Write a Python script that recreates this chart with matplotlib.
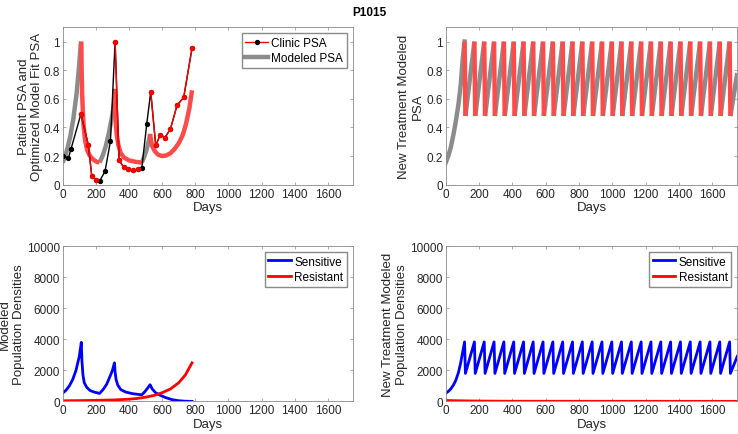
import matplotlib
matplotlib.use("Agg")
import numpy as np
import matplotlib.pyplot as plt
from matplotlib.lines import Line2D

plt.rcParams["font.family"] = ["Liberation Sans", "DejaVu Sans"]

# ---- patient clinic PSA (normalised) ----
clinic_days = [0, 34, 50, 110, 155, 175, 200, 222, 255, 288, 316, 340, 368,
               396, 424, 452, 477, 507, 531, 561, 589, 617, 650, 690, 730, 780]
clinic_psa = [0.20, 0.186, 0.25, 0.495, 0.275, 0.062, 0.035, 0.025, 0.093,
              0.305, 1.0, 0.17, 0.123, 0.107, 0.10, 0.107, 0.116, 0.425, 0.65,
              0.275, 0.35, 0.33, 0.39, 0.556, 0.61, 0.954]
# index ranges of clinic points taken on treatment
clinic_on = [(3, 6), (10, 15), (18, 25)]

# ---- fitted model PSA, off (grey) and on (red) treatment pieces ----
fit_off = [
    ([0, 15, 30, 46, 64, 84, 100, 110],
     [0.155, 0.20, 0.26, 0.34, 0.46, 0.64, 0.85, 1.0]),
    ([222, 240, 260, 280, 295, 305, 310],
     [0.155, 0.20, 0.27, 0.37, 0.46, 0.53, 0.57]),
    ([477, 490, 505, 520, 527],
     [0.155, 0.19, 0.24, 0.31, 0.355]),
]
fit_on = [
    ([112, 114, 117, 121, 126, 135, 148, 165, 185, 205, 222],
     [1.0, 0.82, 0.64, 0.52, 0.41, 0.31, 0.24, 0.20, 0.175, 0.16, 0.155]),
    ([312, 313, 316, 320, 326, 335, 350, 370, 400, 440, 477],
     [0.67, 0.62, 0.52, 0.43, 0.35, 0.28, 0.22, 0.19, 0.17, 0.16, 0.155]),
    ([527, 532, 540, 555, 575, 600, 625, 650, 675, 700, 725, 745, 765, 780],
     [0.355, 0.31, 0.27, 0.235, 0.21, 0.20, 0.205, 0.22, 0.25, 0.29, 0.35,
      0.43, 0.54, 0.66]),
]

# ---- fitted population densities ----
sens_days = [0, 20, 40, 60, 80, 100, 112, 116, 122, 130, 145, 165, 190, 222,
             245, 265, 285, 300, 312, 316, 322, 332, 350, 380, 420, 477, 495,
             510, 527, 540, 560, 590, 620, 660, 700, 740, 780]
sens_vals = [530, 720, 1000, 1400, 2000, 2900, 3800, 2600, 1700, 1200, 900, 700,
             600, 510, 780, 1100, 1600, 2000, 2480, 1900, 1400, 1050, 760, 600,
             500, 420, 620, 820, 1070, 800, 560, 380, 250, 110, 40, 10, 0]
res_days = [0, 100, 200, 300, 400, 450, 500, 550, 600, 650, 700, 740, 780]
res_vals = [40, 50, 65, 90, 140, 190, 270, 380, 560, 800, 1200, 1700, 2480]

# ---- new treatment schedule ----
new_start_days = [0, 15, 30, 46, 60, 76, 90, 102, 113]
new_start_psa = [0.155, 0.20, 0.26, 0.35, 0.44, 0.56, 0.70, 0.88, 1.0]
new_start_sens = [530, 640, 800, 1050, 1350, 1850, 2500, 3200, 3830]
peak_days = [113, 172, 231, 290, 349, 408, 467, 525, 584, 643, 702, 761, 820,
             879, 938, 997, 1055, 1114, 1173, 1232, 1291, 1350, 1409, 1468,
             1527, 1586, 1645, 1704]
trough_days = [118, 177, 236, 295, 354, 413, 472, 530, 589, 648, 707, 766, 825,
               884, 943, 1002, 1060, 1119, 1178, 1237, 1296, 1355, 1414, 1473,
               1532, 1591, 1650, 1709]
psa_peak, psa_trough, psa_end = 1.0, 0.48, 0.78
sens_peak, sens_trough, sens_end = 3830, 1800, 2900
new_end_day = 1750
new_res_days = [0, 50, 100, 200, 400, 1750]
new_res_vals = [60, 45, 35, 20, 8, 0]

GREY = "#8c8c8c"
FIT_RED = "#ff4a4a"
TXT = "#262626"
AX = "#8a8a8a"
MS = 2.8

LEG = dict(loc="upper right", fontsize=8.5, fancybox=False, edgecolor=AX,
           framealpha=1, handlelength=1.9, borderpad=0.3, labelspacing=0.3,
           handletextpad=0.3, borderaxespad=0.5)


def style(ax, ylim, yticks, ylabel, pad):
    ax.set_xlim(0, 1750)
    ax.set_ylim(*ylim)
    ax.set_xticks(range(0, 1601, 200))
    ax.set_yticks(yticks)
    ax.tick_params(direction="in", top=True, right=True, length=2.5,
                   width=0.5, color=AX, labelsize=8.5, labelcolor=TXT, pad=2)
    for s in ax.spines.values():
        s.set_color(AX)
        s.set_linewidth(0.6)
    ax.set_xlabel("Days", fontsize=9.5, color=TXT, labelpad=1)
    ax.set_ylabel(ylabel, fontsize=9.5, color=TXT, labelpad=pad)


fig = plt.figure(figsize=(7.38, 4.35), dpi=100)
ax1 = fig.add_axes([0.085, 0.573, 0.393, 0.362])
ax2 = fig.add_axes([0.604, 0.573, 0.395, 0.362])
ax3 = fig.add_axes([0.085, 0.075, 0.393, 0.357])
ax4 = fig.add_axes([0.604, 0.075, 0.395, 0.357])

# top left: clinic data and fit
for d, v in fit_off:
    ax1.plot(d, v, color=GREY, lw=3.2, solid_capstyle="butt")
for d, v in fit_on:
    ax1.plot(d, v, color=FIT_RED, lw=3.2, solid_capstyle="butt")
ax1.plot(clinic_days, clinic_psa, "-o", color="black", lw=1.0, ms=MS)
for i0, i1 in clinic_on:
    ax1.plot(clinic_days[i0:i1 + 1], clinic_psa[i0:i1 + 1], "-o", color="red",
             lw=1.0, ms=MS)
style(ax1, (0, 1.1), np.arange(0, 1.01, 0.2),
      "Patient PSA and\nOptimized Model Fit PSA", 0)
ax1.set_yticklabels(["0", "0.2", "0.4", "0.6", "0.8", "1"])
h1 = [Line2D([], [], color="red", lw=1.0, marker="o", ms=MS,
             mfc="black", mec="black"),
      Line2D([], [], color=GREY, lw=3.2)]
ax1.legend(h1, ["Clinic PSA", "Modeled PSA"], **LEG)

# top right: new treatment PSA
ax2.plot(new_start_days, new_start_psa, color=GREY, lw=3.2)
for k, p in enumerate(peak_days):
    t = trough_days[k]
    nxt = peak_days[k + 1] if k + 1 < len(peak_days) else new_end_day
    nv = psa_peak if k + 1 < len(peak_days) else psa_end
    ax2.plot([t, nxt], [psa_trough, nv], color=GREY, lw=3.2,
             solid_capstyle="butt")
for k, p in enumerate(peak_days):
    ax2.plot([p, trough_days[k]], [psa_peak, psa_trough], color=FIT_RED,
             lw=3.2, solid_capstyle="butt")
style(ax2, (0, 1.1), np.arange(0, 1.01, 0.2),
      "New Treatment Modeled\nPSA", 2)
ax2.set_yticklabels(["0", "0.2", "0.4", "0.6", "0.8", "1"])

# bottom left: fitted densities
ax3.plot(sens_days, sens_vals, color="blue", lw=2.0, label="Sensitive")
ax3.plot(res_days, res_vals, color="red", lw=2.0, label="Resistant")
style(ax3, (0, 10000), range(0, 10001, 2000),
      "Modeled\nPopulation Densities", 1.2)

# bottom right: new treatment densities
bx = list(new_start_days)
by = list(new_start_sens)
for k, p in enumerate(peak_days):
    bx += [p, trough_days[k]]
    by += [sens_peak, sens_trough]
bx.append(new_end_day)
by.append(sens_end)
ax4.plot(bx, by, color="blue", lw=2.0, label="Sensitive")
ax4.plot(new_res_days, new_res_vals, color="red", lw=2.0, label="Resistant")
style(ax4, (0, 10000), range(0, 10001, 2000),
      "New Treatment Modeled\nPopulation Densities", 1.5)

for ax in (ax3, ax4):
    ax.legend(**LEG)

fig.text(0.5, 0.985, "P1015", ha="center", va="top", fontsize=8.5,
         fontweight="bold", color="black")

fig.savefig("out.png", dpi=100)
